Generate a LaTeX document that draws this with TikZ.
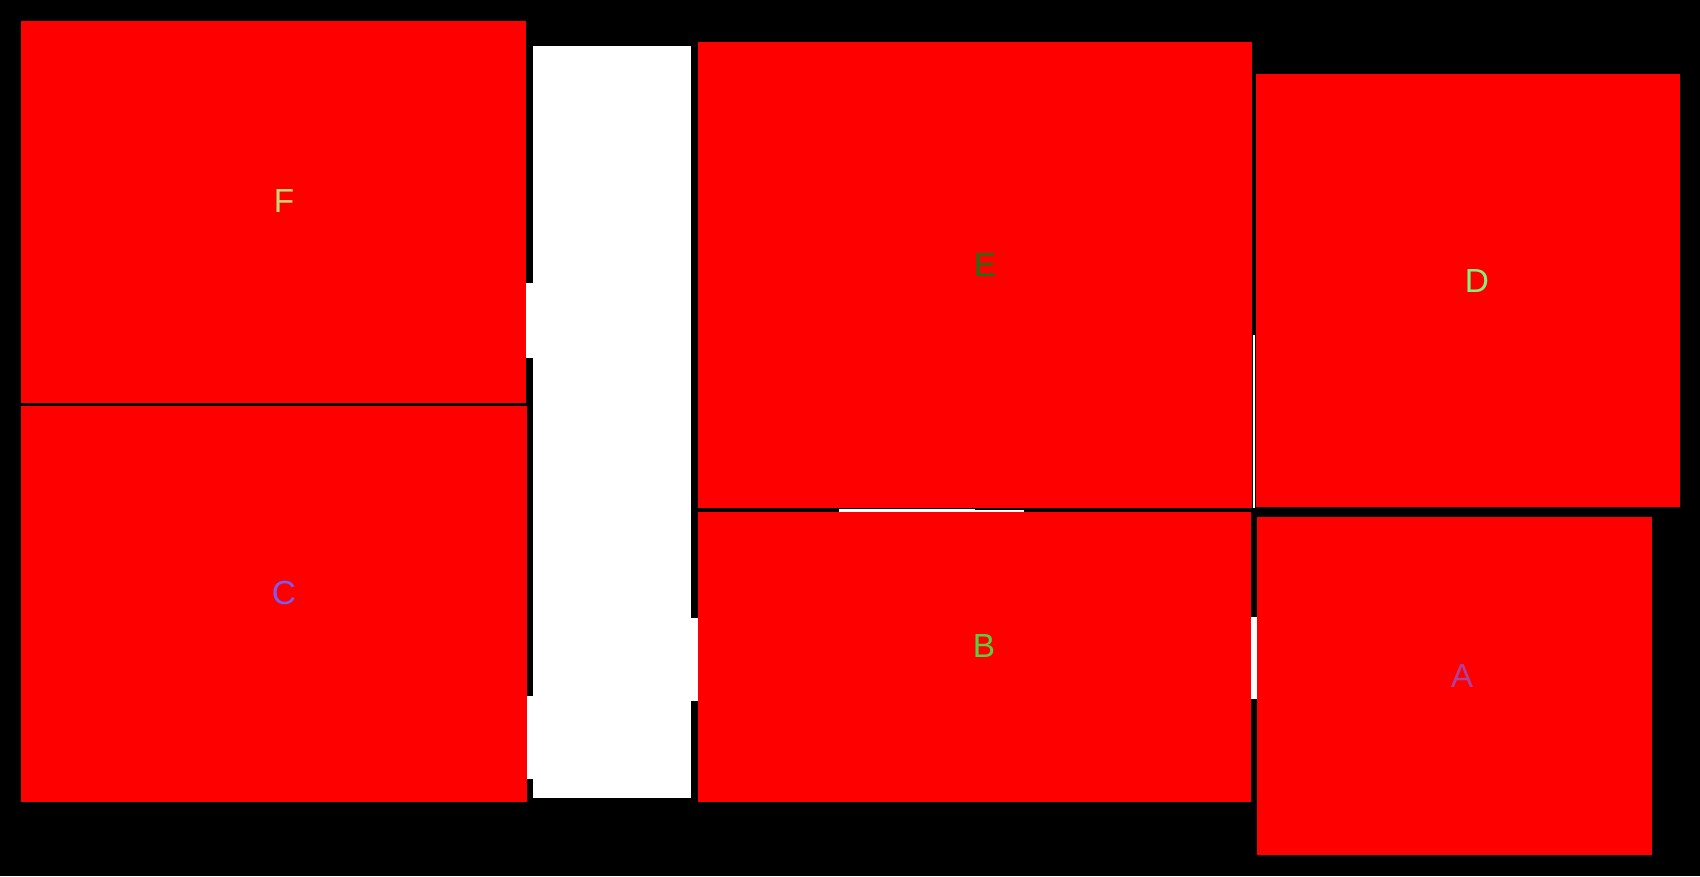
\documentclass[tikz,border=0pt]{standalone}
\usepackage{fontspec}
\setmainfont{Liberation Sans}
\usetikzlibrary{positioning}
\definecolor{lblF}{RGB}{197,214,126}
\definecolor{lblC}{RGB}{127,90,240}
\definecolor{lblE}{RGB}{30,112,24}
\definecolor{lblD}{RGB}{128,240,128}
\definecolor{lblB}{RGB}{90,208,64}
\definecolor{lblA}{RGB}{176,64,154}
\tikzset{cell/.style={fill=red},gap/.style={fill=white},
 lbl/.style={inner sep=0pt,font=\fontsize{19}{19}\selectfont}}

\begin{document}
\begin{tikzpicture}[x=0.02cm,y=-0.02cm]
\fill[black](0,0)rectangle(1700,876);
% free space
\fill[gap](533,46)rectangle(691,798);
\fill[gap](526,283)rectangle(534,358);\fill[gap](527,696)rectangle(534,779);
\fill[gap](691,618)rectangle(698,701);\fill[gap](1251,617)rectangle(1257,699);
\fill[gap](839,509)rectangle(975,513);\fill[gap](975,510)rectangle(1024,514);
\fill[gap](1253,335)rectangle(1255,508);
% cells
\fill[cell](21,21)rectangle(526,403);\fill[cell](21,406)rectangle(527,802);
\fill[cell](698,42)rectangle(1252,508);\fill[cell](698,512)rectangle(1251,802);
\fill[cell](1256,74)rectangle(1680,507);\fill[cell](1257,517)rectangle(1652,855);
% labels
\node[lbl,text=lblF](F) at (284,201){F};
\node[lbl,text=lblC](C) at (284,593){C};
\node[lbl,text=lblE](E) at (985,265){E};
\node[lbl,text=lblD](D) at (1477,281){D};
\node[lbl,text=lblB](B) at (984,646){B};
\node[lbl,text=lblA](A) at (1462,676){A};
\end{tikzpicture}
\end{document}
